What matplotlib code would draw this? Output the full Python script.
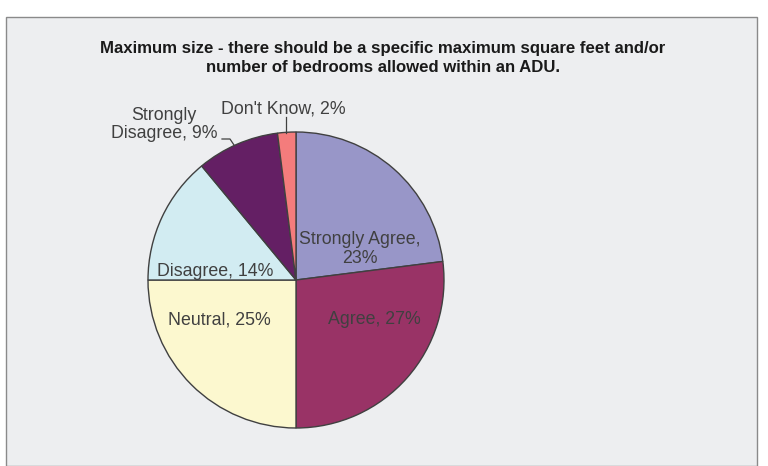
import matplotlib
matplotlib.use("Agg")
import matplotlib.pyplot as plt
from matplotlib.patches import Rectangle

categories = ["Strongly Agree", "Agree", "Neutral", "Disagree", "Strongly Disagree", "Don't Know"]
values = [23, 27, 25, 14, 9, 2]
colors = ["#9896C8", "#993366", "#FCF8CF", "#D2ECF2", "#641F64", "#F47C7C"]
title = "Maximum size - there should be a specific maximum square feet and/or\nnumber of bedrooms allowed within an ADU."

W, H = 768, 466
fig = plt.figure(figsize=(W / 100, H / 100), dpi=100)
fig.patch.set_facecolor("white")

def fx(px):
    return px / W

def fy(py):
    return 1 - py / H

panel = Rectangle((fx(6), 0), fx(751), fy(17), transform=fig.transFigure,
                  facecolor="#EDEEF0", edgecolor="#8A8A8A", linewidth=1.0, zorder=-10)
fig.add_artist(panel)

fig.text(fx(383), fy(58), title, ha="center", va="center", fontsize=12.1, fontweight="bold",
         family=["Liberation Sans", "DejaVu Sans"], color="#1a1a1a",
         linespacing=1.3)

cx, cy, r = 296, 280, 148
ax = fig.add_axes([fx(cx - r), fy(cy + r), 2 * r / W, 2 * r / H])
ax.set_zorder(5)
ax.set_facecolor("none")
wedges, _ = ax.pie(values, colors=colors, startangle=90, counterclock=False, radius=1,
                   wedgeprops=dict(edgecolor="#404040", linewidth=1.0))
ax.set_xlim(-1, 1)
ax.set_ylim(-1, 1)
ax.set_aspect("equal")
ax.axis("off")

def dx(px):
    return (px - cx) / r

def dy(py):
    return -(py - cy) / r

lab = dict(fontsize=12.8, family=["Liberation Sans", "DejaVu Sans"], color="#404040",
           ha="center", va="center", linespacing=1.1)
texts = [f"{c}, {v}%" for c, v in zip(categories, values)]
ax.text(dx(360), dy(249), f"Strongly Agree,\n{values[0]}%", **lab)
ax.text(dx(374), dy(320), texts[1], **lab)
ax.text(dx(219), dy(320), texts[2], **lab)
ax.text(dx(215.5), dy(271.5), texts[3], **lab)
ax.text(dx(164), dy(124.5), f"Strongly\nDisagree, {values[4]}%", clip_on=False, **lab)
ax.text(dx(283), dy(108.5), texts[5], clip_on=False, **lab)

# leader lines
ax.plot([dx(222), dx(230), dx(234)], [dy(139), dy(139), dy(145)], color="#404040", lw=0.9, clip_on=False)
ax.plot([dx(286), dx(286)], [dy(117), dy(133)], color="#404040", lw=0.9, clip_on=False)

fig.savefig("out.png", dpi=100, facecolor=fig.get_facecolor())
